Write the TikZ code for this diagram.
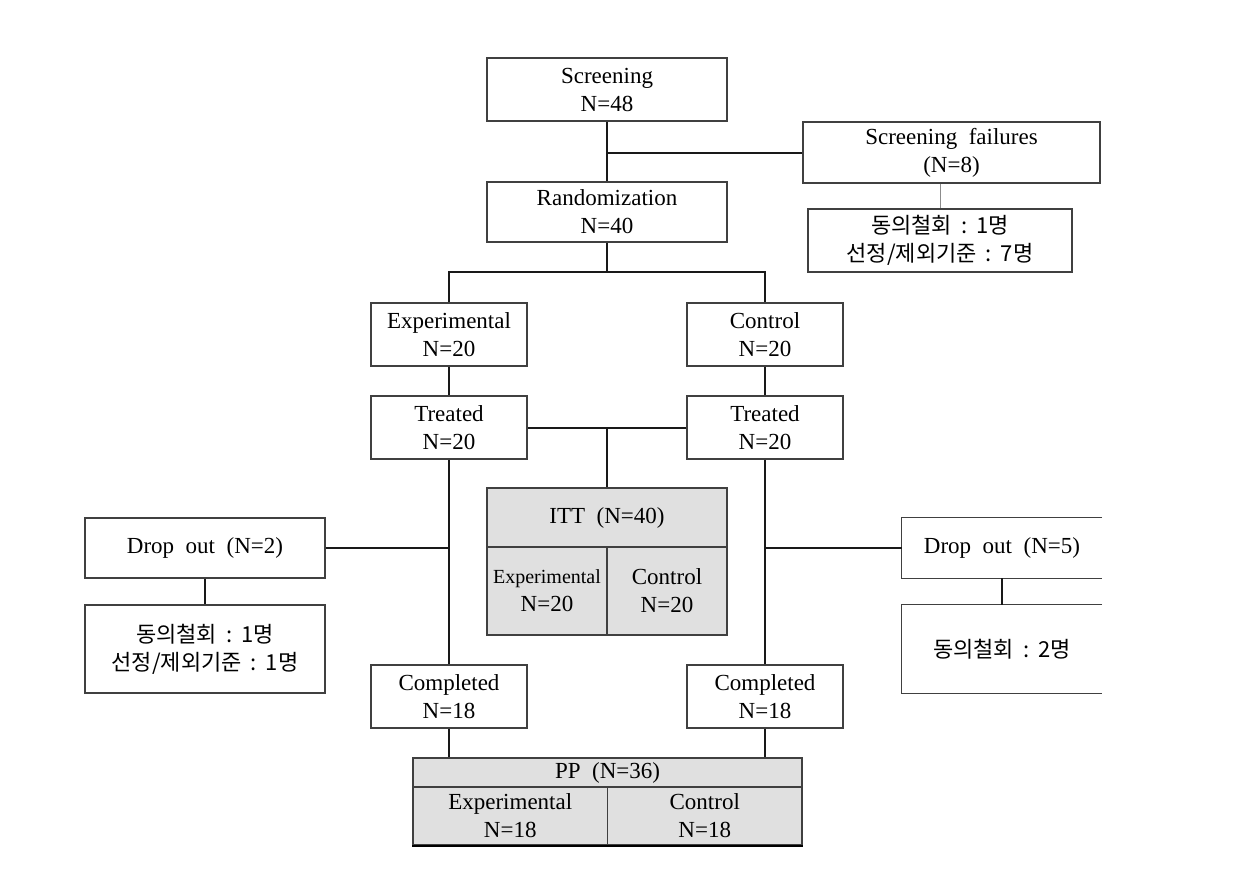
\documentclass[tikz,border=0pt]{standalone}
\usepackage{fontspec}
\setmainfont{Liberation Serif}
\newfontfamily\kr{Noto Sans CJK KR}
\newcommand{\ko}[1]{{\kr\fontsize{22}{28}\selectfont #1}}
\newcommand{\sep}{\hspace{9pt}:\hspace{9pt}}
\begin{document}
\begin{tikzpicture}[x=1pt,y=-1pt,
  box/.style={draw=black!75, line width=1.3pt, fill=white, align=center, inner sep=0pt,
    font=\fontsize{23}{28}\selectfont},
  gbox/.style={box, fill=black!12},
  openbox/.style={align=center, inner sep=0pt, font=\fontsize{23}{28}\selectfont},
  edge/.style={draw=black!75, line width=1.3pt},
  conn/.style={draw=black!90, line width=2pt},
  thin/.style={draw=black!45, line width=1pt}]
\useasboundingbox (0,0) rectangle (1250,881);
% top
\node[box, minimum width=240, minimum height=63] (scr) at (607,89.5) {Screening\\N=48};
\node[box, minimum width=240, minimum height=60] (rand) at (607,212) {Randomization\\N=40};
\node[box, minimum width=297, minimum height=61] (fail) at (951.5,152.5) {Screening\ \ failures\\(N=8)};
\node[box, minimum width=264, minimum height=63] (fk) at (940,240.5) {\ko{동의철회\sep 1명}\\\ko{선정/제외기준\sep 7명}};
% groups
\node[box, minimum width=156, minimum height=63] (exp) at (449,334.5) {Experimental\\N=20};
\node[box, minimum width=156, minimum height=63] (ctl) at (765,334.5) {Control\\N=20};
\node[box, minimum width=156, minimum height=63] (tl) at (449,427.5) {Treated\\N=20};
\node[box, minimum width=156, minimum height=63] (tr) at (765,427.5) {Treated\\N=20};
% ITT
\node[gbox, minimum width=240, minimum height=59] (itth) at (607,517.5) {ITT\ \ (N=40)};
\node[gbox, minimum width=120, minimum height=88] (itte) at (547,591) {\fontsize{20}{28}\selectfont Experimental\\N=20};
\node[gbox, minimum width=120, minimum height=88] (ittc) at (667,591) {Control\\N=20};
% dropouts
\node[box, minimum width=240, minimum height=60] (dl) at (205,548) {Drop\ \ out\ \ (N=2)};
\node[box, minimum width=240, minimum height=88] (dlk) at (205,649) {\ko{동의철회\sep 1명}\\\ko{선정/제외기준\sep 1명}};
\node[openbox, minimum width=200, minimum height=60] (dr) at (1002,548) {Drop\ \ out\ \ (N=5)};
\draw[edge] (dr.north east) -- (dr.north west) -- (dr.south west) -- (dr.south east);
\node[openbox, minimum width=200, minimum height=88] (drk) at (1002,649) {\ko{동의철회\sep 2명}};
\draw[edge] (drk.north east) -- (drk.north west) -- (drk.south west) -- (drk.south east);
% completed
\node[box, minimum width=156, minimum height=63] (cl) at (449,696.5) {Completed\\N=18};
\node[box, minimum width=156, minimum height=63] (cr) at (765,696.5) {Completed\\N=18};
% PP
\node[gbox, minimum width=389, minimum height=29] (pph) at (607.5,772.5) {PP\ \ (N=36)};
\node[gbox, minimum width=194.5, minimum height=58] (ppe) at (510.25,816) {Experimental\\N=18};
\node[gbox, minimum width=194.5, minimum height=58] (ppc) at (704.75,816) {Control\\N=18};
\draw[line width=2.2pt, black] (ppe.south west) -- (ppc.south east);
% connectors
\draw[conn] (scr.south) -- (rand.north);
\draw[conn] (fail.west) -- (fail.west -| scr.south);
\draw[thin] (fail.south -| fk.north) -- (fk.north);
\coordinate (br) at (607,272);
\draw[conn] (rand.south) -- (br);
\draw[conn] (exp.north) |- (br) -| (ctl.north);
\draw[conn] (exp.south) -- (tl.north);
\draw[conn] (ctl.south) -- (tr.north);
\draw[conn] (tl.east) -- (tr.west);
\draw[conn] (tl.east -| itth.north) -- (itth.north);
\draw[conn] (tl.south) -- (cl.north);
\draw[conn] (tr.south) -- (cr.north);
\draw[conn] (dl.east) -- (dl.east -| tl.south);
\draw[conn] (dr.west) -- (dr.west -| tr.south);
\draw[conn] (dl.south) -- (dlk.north);
\draw[conn] (dr.south) -- (drk.north);
\draw[conn] (cl.south) -- (cl.south |- pph.north);
\draw[conn] (cr.south) -- (cr.south |- pph.north);
\end{tikzpicture}
\end{document}
